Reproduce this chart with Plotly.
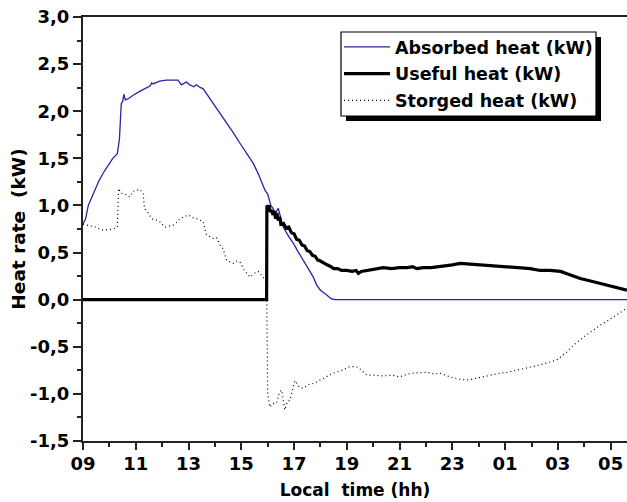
import plotly.graph_objects as go

# ---------------- data ----------------
abs_t = [9.0, 9.1, 9.2, 9.4, 9.6, 9.8, 10.0, 10.13, 10.3, 10.38, 10.45, 10.5, 10.55, 10.6, 10.7,
         10.9, 11.15, 11.4, 11.55, 11.6, 11.66, 11.9, 12.16, 12.4, 12.6, 12.73, 12.8, 12.92, 13.05,
         13.2, 13.3, 13.45, 13.55, 13.8, 14.06, 14.25, 14.44, 14.7, 14.95, 15.2, 15.45, 15.65, 15.8,
         15.9, 16.0, 16.06, 16.12, 16.2, 16.3, 16.4, 16.5, 16.59, 16.8, 16.97, 17.15, 17.35, 17.55,
         17.73, 17.85, 18.0, 18.24, 18.4, 18.55, 29.62]
abs_v = [0.80, 0.86, 1.00, 1.13, 1.26, 1.36, 1.45, 1.50, 1.55, 1.70, 2.08, 2.10, 2.18, 2.12, 2.13,
         2.17, 2.21, 2.25, 2.27, 2.30, 2.29, 2.32, 2.33, 2.33, 2.33, 2.28, 2.29, 2.31, 2.28,
         2.26, 2.28, 2.25, 2.24, 2.14, 2.03, 1.95, 1.87, 1.77, 1.66, 1.56, 1.45, 1.33, 1.22,
         1.16, 1.12, 1.06, 1.00, 0.97, 0.92, 0.97, 0.85, 0.77, 0.67, 0.60, 0.51, 0.42, 0.32,
         0.24, 0.16, 0.10, 0.05, 0.01, 0.0, 0.0]

use_t = [9.0, 15.96, 15.97, 16.0, 16.05, 16.1, 16.15, 16.2, 16.25, 16.3, 16.35, 16.4, 16.45, 16.5,
         16.6, 16.7, 16.8, 16.9, 17.0, 17.1, 17.2, 17.3, 17.4, 17.5, 17.6, 17.7, 17.8, 17.9, 18.0,
         18.1, 18.25, 18.4, 18.5, 18.65, 18.8, 19.0, 19.2, 19.35, 19.44, 19.55, 19.75, 20.0, 20.38,
         20.7, 21.0, 21.3, 21.5, 21.65, 21.9, 22.2, 22.53, 22.8, 23.0, 23.3, 23.6, 24.06, 24.5,
         25.07, 25.5, 25.95, 26.33, 26.7, 27.1, 27.4, 27.85, 28.2, 28.6, 28.9, 29.24, 29.62]
use_v = [0.0, 0.0, 1.00, 0.98, 1.00, 0.93, 0.95, 0.90, 0.94, 0.86, 0.92, 0.84, 0.88, 0.80,
         0.81, 0.76, 0.77, 0.71, 0.70, 0.64, 0.63, 0.58, 0.57, 0.52, 0.51, 0.47, 0.46, 0.42, 0.41,
         0.39, 0.37, 0.35, 0.33, 0.33, 0.31, 0.31, 0.30, 0.31, 0.28, 0.30, 0.31, 0.32, 0.34,
         0.33, 0.34, 0.34, 0.35, 0.33, 0.34, 0.34, 0.35, 0.36, 0.37, 0.385, 0.38, 0.37, 0.36,
         0.35, 0.34, 0.33, 0.31, 0.31, 0.30, 0.27, 0.225, 0.20, 0.17, 0.15, 0.12, 0.10]

sto_t = [9.0, 9.2, 9.5, 9.7, 9.88, 10.13, 10.3, 10.35, 10.45, 10.6, 10.77, 10.9, 11.15, 11.28,
         11.33, 11.45, 11.6, 11.78, 11.95, 12.1, 12.25, 12.41, 12.55, 12.67, 12.85, 12.98, 13.15,
         13.3, 13.55, 13.68, 13.93, 14.06, 14.2, 14.31, 14.44, 14.6, 14.69, 14.85, 14.95, 15.1,
         15.33, 15.5, 15.64, 15.8, 15.9, 15.96, 16.0, 16.08, 16.2, 16.33, 16.45, 16.53, 16.65,
         16.75, 16.84, 16.95, 17.03, 17.2, 17.35, 17.55, 17.73, 18.0, 18.49, 18.8, 19.12, 19.3,
         19.44, 19.75, 20.0, 20.38, 20.7, 21.0, 21.3, 21.52, 22.03, 22.3, 22.53, 22.92, 23.2,
         23.55, 23.8, 24.18, 24.5, 24.81, 25.1, 25.44, 25.8, 26.2, 26.6, 26.96, 27.34, 27.6,
         27.98, 28.3, 28.61, 28.9, 29.11, 29.4, 29.62]
sto_v = [0.80, 0.79, 0.77, 0.74, 0.74, 0.75, 0.77, 1.18, 1.13, 1.12, 1.09, 1.15, 1.17, 1.13,
         0.97, 0.93, 0.86, 0.845, 0.82, 0.77, 0.78, 0.79, 0.82, 0.86, 0.88, 0.90, 0.87,
         0.86, 0.83, 0.69, 0.65, 0.66, 0.58, 0.54, 0.42, 0.40, 0.385, 0.41, 0.40, 0.32,
         0.24, 0.28, 0.30, 0.25, 0.21, 0.18, -1.00, -1.14, -1.10, -1.10, -0.98, -0.96, -1.17,
         -1.08, -1.07, -0.95, -0.86, -0.93, -0.94, -0.90, -0.89, -0.85, -0.78, -0.75, -0.71, -0.71,
         -0.72, -0.80, -0.80, -0.81, -0.80, -0.82, -0.79, -0.78, -0.77, -0.79, -0.78, -0.82, -0.84,
         -0.855, -0.84, -0.82, -0.80, -0.78, -0.77, -0.75, -0.73, -0.70, -0.67, -0.64, -0.555, -0.48,
         -0.395, -0.33, -0.27, -0.22, -0.18, -0.13, -0.09]

x_tickvals = [9, 11, 13, 15, 17, 19, 21, 23, 25, 27, 29]
x_ticktext = ["09", "11", "13", "15", "17", "19", "21", "23", "01", "03", "05"]
y_tickvals = [-1.5, -1.0, -0.5, 0.0, 0.5, 1.0, 1.5, 2.0, 2.5, 3.0]
y_ticktext = ["-1,5", "-1,0", "-0,5", "0,0", "0,5", "1,0", "1,5", "2,0", "2,5", "3,0"]

FONT = "DejaVu Sans"

fig = go.Figure()
fig.add_trace(go.Scatter(x=abs_t, y=abs_v, mode="lines", name="Absorbed heat (kW)",
                         line=dict(color="#2327a4", width=1.3), legendgroup="a"))
fig.add_trace(go.Scatter(x=use_t, y=use_v, mode="lines", name="Useful heat (kW)",
                         line=dict(color="#000000", width=3.2), legendgroup="b"))
fig.add_trace(go.Scatter(x=sto_t, y=sto_v, mode="lines", name="Storged heat (kW)",
                         line=dict(color="#000000", width=1.2, dash="1px,3px"), legendgroup="c"))

W, H = 627, 502
L, R, T, B = 83, 0, 17, 61
pw, ph = W - L - R, H - T - B

def px_x(p):
    return (p - L) / pw

def px_y(p):
    return (H - B - p) / ph

fig.update_layout(
    width=W, height=H,
    margin=dict(l=L, r=R, t=T, b=B, autoexpand=False),
    paper_bgcolor="white", plot_bgcolor="white",
    font=dict(family=FONT, color="black", weight="bold"),
    showlegend=True,
    legend=dict(x=px_x(339), y=px_y(29), xanchor="left", yanchor="top",
                bgcolor="rgba(0,0,0,0)", borderwidth=0,
                font=dict(family=FONT, size=17.5, weight="bold", color="black"),
                tracegroupgap=1, itemwidth=46),
    shapes=[
        dict(type="rect", xref="paper", yref="paper",
             x0=px_x(346), x1=px_x(601), y0=px_y(121), y1=px_y(37),
             fillcolor="black", line=dict(width=0), layer="above"),
        dict(type="rect", xref="paper", yref="paper",
             x0=px_x(341), x1=px_x(596), y0=px_y(116), y1=px_y(32),
             fillcolor="white", line=dict(color="black", width=1.2), layer="above"),
    ],
)

fig.update_xaxes(
    range=[9, 29.62], tickmode="array", tickvals=x_tickvals, ticktext=x_ticktext,
    automargin=False, ticklabeloverflow="allow", ticklabelstandoff=-2,
    showgrid=False, zeroline=False, showline=True, linecolor="#222", linewidth=2,
    mirror=True, ticks="outside", ticklen=7, tickwidth=1.5, tickcolor="#222",
    minor=dict(dtick=1, ticks="outside", ticklen=4, tickwidth=1.5, tickcolor="#222", showgrid=False),
    tickfont=dict(family=FONT, size=18, weight="bold"),
    title=dict(text="Local  time (hh)", font=dict(family=FONT, size=17, weight="bold"), standoff=12),
)
fig.update_yaxes(
    range=[-1.5, 3.0], tickmode="array", tickvals=y_tickvals, ticktext=y_ticktext,
    automargin=False, ticklabeloverflow="allow",
    showgrid=False, zeroline=False, showline=True, linecolor="#222", linewidth=2,
    mirror=False, ticks="outside", ticklen=8, tickwidth=1.5, tickcolor="#222",
    minor=dict(dtick=0.25, ticks="outside", ticklen=4, tickwidth=1.5, tickcolor="#222", showgrid=False),
    tickfont=dict(family=FONT, size=18, weight="bold"),
    title=dict(text="Heat rate  (kW)", font=dict(family=FONT, size=18.5, weight="bold"), standoff=0),
)

# remove the browser's default 8px body margin so the figure sits at the window's corner
fig.write_html("out.html", config={"displayModeBar": False},
               post_script="document.body.style.margin='0';")
